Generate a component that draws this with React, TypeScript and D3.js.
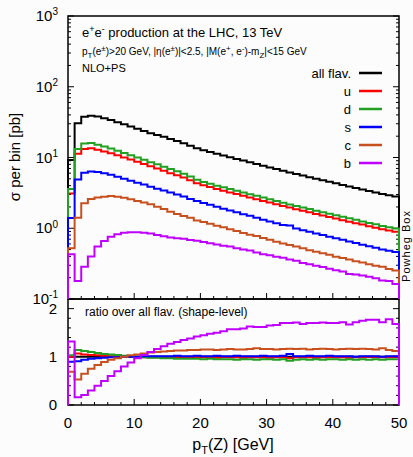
import React from "react";
import * as d3 from "d3";

// ---- data (1 GeV bins from 0 to 50) ----
const binLow = d3.range(0, 50); // lower edge of each pT(Z) bin [GeV]
const binWidth = 1;

const allFlav = [9.2, 30.4, 37.8, 39.0, 38.0, 36.0, 33.9, 31.6, 29.5, 27.4, 25.4, 23.7, 22.1, 20.8, 19.6, 18.3, 17.1, 15.9, 14.6, 13.5, 12.7, 12.0, 11.3, 10.7, 10.1, 9.55, 9.05, 8.55, 8.1, 7.65, 7.25, 6.85, 6.5, 6.15, 5.85, 5.55, 5.27, 5.0, 4.77, 4.53, 4.32, 4.1, 3.9, 3.72, 3.54, 3.37, 3.21, 3.06, 2.92, 2.8];
const uFlav = [3.1, 11.3, 13.2, 13.5, 12.9, 12.2, 11.5, 10.8, 10.0, 9.4, 8.7, 8.1, 7.5, 7.0, 6.5, 6.0, 5.6, 5.2, 4.75, 4.32, 4.04, 3.82, 3.59, 3.4, 3.21, 3.04, 2.88, 2.72, 2.58, 2.43, 2.31, 2.18, 2.07, 1.96, 1.86, 1.77, 1.68, 1.59, 1.52, 1.44, 1.37, 1.3, 1.24, 1.18, 1.13, 1.07, 1.02, 0.97, 0.93, 0.89];
const dFlav = [3.6, 13.2, 15.8, 16.0, 15.2, 14.3, 13.4, 12.5, 11.6, 10.8, 10.0, 9.3, 8.6, 8.0, 7.4, 6.9, 6.4, 5.9, 5.4, 4.85, 4.5, 4.25, 4.0, 3.79, 3.58, 3.38, 3.2, 3.03, 2.87, 2.71, 2.57, 2.43, 2.3, 2.16, 2.07, 1.97, 1.87, 1.77, 1.69, 1.6, 1.53, 1.45, 1.38, 1.32, 1.25, 1.19, 1.14, 1.08, 1.03, 0.99];
const sFlav = [1.4, 4.9, 6.1, 6.35, 6.25, 6.0, 5.7, 5.35, 5.0, 4.7, 4.4, 4.15, 3.87, 3.63, 3.41, 3.19, 3.0, 2.8, 2.6, 2.42, 2.27, 2.14, 2.01, 1.89, 1.78, 1.68, 1.58, 1.5, 1.41, 1.32, 1.25, 1.18, 1.11, 1.09, 0.995, 0.94, 0.89, 0.845, 0.8, 0.76, 0.72, 0.685, 0.65, 0.617, 0.584, 0.556, 0.53, 0.502, 0.479, 0.46];
const cFlav = [0.52, 1.41, 2.25, 2.59, 2.73, 2.79, 2.86, 2.79, 2.7, 2.56, 2.43, 2.32, 2.18, 2.02, 1.87, 1.71, 1.59, 1.49, 1.41, 1.29, 1.23, 1.16, 1.085, 1.03, 0.97, 0.917, 0.86, 0.81, 0.778, 0.727, 0.69, 0.644, 0.611, 0.578, 0.55, 0.522, 0.49, 0.465, 0.444, 0.421, 0.397, 0.381, 0.363, 0.342, 0.329, 0.31, 0.295, 0.285, 0.266, 0.252];
const bFlav = [0.43, 0.18, 0.286, 0.40, 0.55, 0.66, 0.76, 0.82, 0.865, 0.875, 0.875, 0.865, 0.84, 0.80, 0.77, 0.74, 0.72, 0.71, 0.68, 0.665, 0.639, 0.616, 0.588, 0.568, 0.55, 0.52, 0.499, 0.484, 0.455, 0.43, 0.415, 0.395, 0.383, 0.363, 0.347, 0.324, 0.311, 0.295, 0.283, 0.267, 0.255, 0.245, 0.226, 0.222, 0.215, 0.207, 0.197, 0.183, 0.18, 0.163];

const allRatio = [1, 1, 1, 1, 1, 1, 1, 1, 1, 1, 1, 1, 1, 1, 1, 1, 1, 1, 1, 1, 1, 1, 1, 1, 1, 1, 1, 1, 1, 1, 1, 1, 1, 1, 1, 1, 1, 1, 1, 1, 1, 1, 1, 1, 1, 1, 1, 1, 1, 1];
const uRatio = [1.00, 1.07, 1.05, 1.04, 1.03, 1.02, 1.01, 1.01, 1.00, 1.00, 0.99, 0.99, 0.99, 0.99, 0.98, 0.99, 0.99, 0.98, 0.99, 0.99, 0.99, 0.99, 0.98, 0.99, 0.99, 0.99, 0.98, 0.99, 0.99, 0.99, 0.98, 0.99, 0.99, 0.97, 0.99, 0.99, 0.99, 0.98, 0.99, 0.99, 0.99, 0.99, 0.98, 0.99, 0.99, 1.00, 0.99, 0.99, 0.99, 1.00];
const dRatio = [1.03, 1.14, 1.12, 1.10, 1.08, 1.06, 1.05, 1.04, 1.02, 1.01, 1.00, 0.99, 0.98, 0.98, 0.97, 0.97, 0.96, 0.96, 0.96, 0.96, 0.95, 0.96, 0.95, 0.95, 0.95, 0.94, 0.95, 0.95, 0.94, 0.95, 0.95, 0.94, 0.95, 0.92, 0.94, 0.95, 0.94, 0.95, 0.94, 0.95, 0.95, 0.94, 0.95, 0.94, 0.95, 0.94, 0.95, 0.94, 0.95, 0.95];
const sRatio = [0.90, 0.91, 0.94, 0.96, 0.97, 0.98, 0.99, 0.99, 1.00, 1.00, 1.00, 1.01, 1.01, 1.01, 1.01, 1.01, 1.02, 1.01, 1.01, 1.02, 1.01, 1.01, 1.02, 1.01, 1.01, 1.02, 1.01, 1.01, 1.01, 1.02, 1.01, 1.01, 1.02, 1.06, 1.01, 1.01, 1.02, 1.01, 1.01, 1.02, 1.01, 1.01, 1.01, 1.00, 1.01, 1.01, 1.01, 1.00, 1.01, 1.01];
const cRatio = [0.69, 0.53, 0.65, 0.75, 0.83, 0.89, 0.94, 0.97, 1.00, 1.03, 1.05, 1.07, 1.09, 1.10, 1.11, 1.12, 1.13, 1.13, 1.14, 1.14, 1.15, 1.15, 1.14, 1.15, 1.16, 1.15, 1.15, 1.16, 1.18, 1.16, 1.16, 1.15, 1.16, 1.17, 1.16, 1.17, 1.15, 1.16, 1.17, 1.16, 1.15, 1.16, 1.17, 1.16, 1.17, 1.16, 1.15, 1.18, 1.14, 1.12];
const bRatio = [1.32, 0.16, 0.21, 0.30, 0.40, 0.50, 0.60, 0.70, 0.80, 0.88, 0.97, 1.04, 1.10, 1.16, 1.22, 1.27, 1.31, 1.35, 1.38, 1.42, 1.45, 1.48, 1.50, 1.53, 1.57, 1.57, 1.59, 1.63, 1.62, 1.62, 1.65, 1.66, 1.70, 1.70, 1.71, 1.68, 1.70, 1.70, 1.71, 1.70, 1.70, 1.72, 1.67, 1.72, 1.75, 1.77, 1.77, 1.72, 1.78, 1.68];

const seriesNames = ["all flav.", "u", "d", "s", "c", "b"];
const seriesColors = ["#000000", "#ff0000", "#22a022", "#0000ff", "#c8501e", "#c000ff"];
const upperSeries = [allFlav, uFlav, dFlav, sFlav, cFlav, bFlav];
const ratioSeries = [allRatio, uRatio, dRatio, sRatio, cRatio, bRatio];

const xTickLabels = [0, 10, 20, 30, 40, 50];
const logTickExps = [-1, 0, 1, 2, 3];
const ratioTickLabels = [0, 1, 2];

// ---- layout ----
const W = 413, H = 457;
const L = 68, R = 399, T = 16, MID = 299, B = 405;
const FONT = "Liberation Sans, Arial, Helvetica, sans-serif";

type Seg = { t: string; s?: "sup" | "sub" };
function RichText({ x, y, segs, size, anchor = "start", subSize, transform }: any) {
  const ss = subSize ?? Math.round(size * 0.7);
  let cur = 0;
  return (
    <text x={x} y={y} fontSize={size} textAnchor={anchor} fontFamily={FONT} fill="#000" transform={transform}>
      {segs.map((g: Seg, i: number) => {
        const target = g.s === "sup" ? -size * 0.38 : g.s === "sub" ? size * 0.25 : 0;
        const dy = target - cur;
        cur = target;
        return (
          <tspan key={i} dy={dy} fontSize={g.s ? ss : size}>
            {g.t}
          </tspan>
        );
      })}
    </text>
  );
}

export default function App() {
  const x = d3.scaleLinear().domain([0, 50]).range([L, R]);
  const yLog = d3.scaleLog().domain([0.1, 1000]).range([MID, T]);
  const yRat = d3.scaleLinear().domain([0, 2.2]).range([B, MID]);

  const stepPath = (vals: number[], y: (v: number) => number, base: number) => {
    let p = `M${x(binLow[0])},${base}`;
    vals.forEach((v, i) => {
      p += `L${x(binLow[i])},${y(v)}L${x(binLow[i] + binWidth)},${y(v)}`;
    });
    p += `L${x(binLow[binLow.length - 1] + binWidth)},${base}`;
    return p;
  };

  // log ticks
  const logMajor = logTickExps.map((e) => Math.pow(10, e));
  const logMinor: number[] = [];
  for (let e = -1; e < 3; e++) for (let m = 2; m <= 9; m++) logMinor.push(m * Math.pow(10, e));
  const xMinor = d3.range(0, 51, 2).filter((v) => v % 10 !== 0);
  const rMinor = d3.range(0, 2.21, 0.2).filter((v) => Math.abs(v - Math.round(v)) > 0.01);

  const tk = { stroke: "#000", strokeWidth: 1 };
  const maj = 6, mnr = 3;

  return (
    <svg width={W} height={H} style={{ position: "absolute", left: 0, top: 0, background: "#fcfcfc" }}>
      {/* frames */}
      <rect x={L} y={T} width={R - L} height={MID - T} fill="none" stroke="#000" strokeWidth={1.5} />
      <rect x={L} y={MID} width={R - L} height={B - MID} fill="none" stroke="#000" strokeWidth={1.5} />

      {/* upper y ticks */}
      {logMajor.map((v, i) => (
        <g key={"lm" + i}>
          <line x1={L} x2={L + maj} y1={yLog(v)} y2={yLog(v)} {...tk} />
          <line x1={R} x2={R - maj} y1={yLog(v)} y2={yLog(v)} {...tk} />
        </g>
      ))}
      {logMinor.map((v, i) => (
        <g key={"ln" + i}>
          <line x1={L} x2={L + mnr} y1={yLog(v)} y2={yLog(v)} {...tk} />
          <line x1={R} x2={R - mnr} y1={yLog(v)} y2={yLog(v)} {...tk} />
        </g>
      ))}
      {/* lower y ticks */}
      {ratioTickLabels.map((v, i) => (
        <g key={"rm" + i}>
          <line x1={L} x2={L + maj} y1={yRat(v)} y2={yRat(v)} {...tk} />
          <line x1={R} x2={R - maj} y1={yRat(v)} y2={yRat(v)} {...tk} />
        </g>
      ))}
      {rMinor.map((v, i) => (
        <g key={"rn" + i}>
          <line x1={L} x2={L + mnr} y1={yRat(v)} y2={yRat(v)} {...tk} />
          <line x1={R} x2={R - mnr} y1={yRat(v)} y2={yRat(v)} {...tk} />
        </g>
      ))}
      {/* x ticks on divider (upper panel) and bottom */}
      {xTickLabels.map((v, i) => (
        <g key={"xm" + i}>
          <line x1={x(v)} x2={x(v)} y1={MID} y2={MID - maj} {...tk} />
          <line x1={x(v)} x2={x(v)} y1={B} y2={B - maj} {...tk} />
        </g>
      ))}
      {xMinor.map((v, i) => (
        <g key={"xn" + i}>
          <line x1={x(v)} x2={x(v)} y1={MID} y2={MID - mnr} {...tk} />
          <line x1={x(v)} x2={x(v)} y1={B} y2={B - mnr} {...tk} />
        </g>
      ))}

      {/* curves */}
      {upperSeries.map((vals, i) => (
        <path key={"u" + i} d={stepPath(vals, yLog, MID)} fill="none" stroke={seriesColors[i]} strokeWidth={2} />
      ))}
      {ratioSeries.map((vals, i) => (
        <path key={"r" + i} d={stepPath(vals, yRat, B)} fill="none" stroke={seriesColors[i]} strokeWidth={2} />
      ))}

      {/* y tick labels upper */}
      {logTickExps.map((e, i) => (
        <RichText key={"yl" + i} x={58} y={yLog(Math.pow(10, e)) + 5} size={15} subSize={10} anchor="end"
          segs={[{ t: "10" }, { t: String(e), s: "sup" }]} />
      ))}
      {ratioTickLabels.map((v, i) => (
        <text key={"rl" + i} x={57} y={yRat(v) + 5} fontSize={15} textAnchor="end" fontFamily={FONT}>{v}</text>
      ))}
      {xTickLabels.map((v, i) => (
        <text key={"xl" + i} x={x(v)} y={428} fontSize={15} textAnchor="middle" fontFamily={FONT}>{v}</text>
      ))}

      {/* axis titles */}
      <text transform={`translate(20,157) rotate(-90)`} fontSize={15} textAnchor="middle" fontFamily={FONT}>σ per bin [pb]</text>
      <RichText x={233} y={450} size={16} anchor="middle" segs={[{ t: "p" }, { t: "T", s: "sub" }, { t: "(Z) [GeV]" }]} />

      {/* annotations */}
      <RichText x={82} y={37} size={13} segs={[{ t: "e" }, { t: "+", s: "sup" }, { t: "e" }, { t: "-", s: "sup" }, { t: " production at the LHC, 13 TeV" }]} />
      <RichText x={82} y={55} size={10} subSize={8} segs={[
        { t: "p" }, { t: "T", s: "sub" }, { t: "(e" }, { t: "±", s: "sup" }, { t: ")>20 GeV, |η(e" }, { t: "±", s: "sup" },
        { t: ")|<2.5, |M(e" }, { t: "+", s: "sup" }, { t: ", e" }, { t: "-", s: "sup" }, { t: ")-m" }, { t: "Z", s: "sub" }, { t: "|<15 GeV" },
      ]} />
      <text x={82} y={72} fontSize={11} fontFamily={FONT}>NLO+PS</text>
      <text x={85} y={316} fontSize={12} fontFamily={FONT}>ratio over all flav. (shape-level)</text>

      {/* legend */}
      {seriesNames.map((n, i) => (
        <g key={"lg" + i}>
          <text x={351} y={78 + i * 18} fontSize={13} textAnchor="end" fontFamily={FONT}>{n}</text>
          <line x1={359} x2={382} y1={73 + i * 18} y2={73 + i * 18} stroke={seriesColors[i]} strokeWidth={2.5} />
        </g>
      ))}

      <text transform={`translate(410,246) rotate(-90)`} fontSize={11} textAnchor="middle" fontFamily={FONT} letterSpacing={1}>Powheg  Box</text>
    </svg>
  );
}
